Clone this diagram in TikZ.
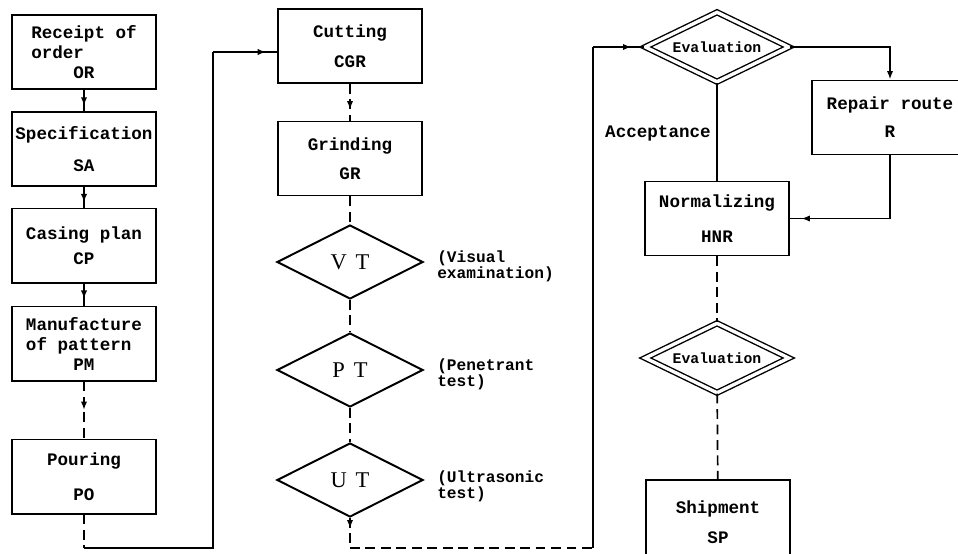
\documentclass[tikz,border=0pt]{standalone}
\usepackage{fontspec}
\setmainfont{Liberation Mono}
\newfontfamily\diafont{Liberation Serif}
\usetikzlibrary{arrows.meta,shapes.geometric,decorations.markings}

\tikzset{
	box/.style={draw, line width=1.4pt, minimum width=3.6cm, minimum height=1.85cm, inner sep=1pt, align=center, font=\fontsize{12.5}{14}\selectfont\bfseries},
	check/.style={draw, diamond, line width=1.4pt, aspect=2, minimum width=3.65cm, minimum height=1.85cm, inner sep=0pt, font=\diafont\fontsize{16}{18}\selectfont},
	evaluation/.style={draw, diamond, line width=1pt, double, double distance=2.4pt, aspect=2, minimum width=3.6cm, minimum height=1.75cm, inner sep=0pt, font=\fontsize{10.5}{12}\selectfont\bfseries},
	note/.style={anchor=west, align=left, inner sep=0pt, font=\fontsize{11.5}{11.5}\selectfont\bfseries},
	flow/.style={line width=1.2pt},
	broken/.style={flow, dash pattern=on 7pt off 4pt},
	midarrow/.style={postaction={decorate}, decoration={markings, mark=at position #1 with {\arrow{Latex[length=6pt,width=4.5pt]}}}}
}

\begin{document}
\begin{tikzpicture}[x=0.025cm, y=-0.025cm]
	\useasboundingbox (0,0) rectangle (958,553);

	\node[box] (OR) at (84,52) {\begin{tabular}{@{}l@{}}Receipt of\\order\end{tabular}\\[1pt]OR};
	\node[box] (SA) at (84,149) {Specification\\[9pt]SA};
	\node[box] (CP) at (84,245.5) {Casing plan\\[4pt]CP};
	\node[box] (PM) at (84,343.5) {\begin{tabular}{@{}l@{}}Manufacture\\of pattern\end{tabular}\\[1pt]PM};
	\node[box] (PO) at (84,476.5) {Pouring\\[11pt]PO};

	\node[box] (CGR) at (350,46) {Cutting\\[7pt]CGR};
	\node[box] (GR) at (350,158.5) {Grinding\\[7pt]GR};
	\node[check] (VT) at (350,262) {V\hspace{0.4em}T};
	\node[check] (PT) at (350,370) {P\hspace{0.4em}T};
	\node[check] (UT) at (350,480) {U\hspace{0.4em}T};
	\node[note] (vtnote) at (437,266) {(Visual\\examination)};
	\node[note] (ptnote) at (437,374) {(Penetrant\\test)};
	\node[note] (utnote) at (437,486) {(Ultrasonic\\test)};

	\node[evaluation] (Ev1) at (717,47) {Evaluation};
	\node[box, minimum width=3.9cm] (R) at (890,117.5) {Repair route\\[6pt]R};
	\node[box] (HNR) at (717,218.5) {Normalizing\\[11pt]HNR};
	\node[evaluation] (Ev2) at (717,358) {Evaluation};
	\node[box, minimum height=2.1cm] (SP) at (718,522) {Shipment\\[7pt]SP};
	\node[note, anchor=east, font=\fontsize{12.5}{14}\selectfont\bfseries] (acc) at (711,133) {Acceptance};

	\draw[flow, midarrow=0.75] (OR) -- (SA);
	\draw[flow, midarrow=0.75] (SA) -- (CP);
	\draw[flow, midarrow=0.7] (CP) -- (PM);
	\draw[broken, midarrow=0.5] (PM) -- (PO);

	\coordinate (a1) at (84,548);
	\coordinate (a2) at (213,548);
	\coordinate (a3) at (213,52);
	\draw[broken] (PO) -- (a1);
	\draw[flow] (a1) -- (a2) -- (a3);
	\draw[flow, midarrow=0.83] (a3) -- (a3 -| CGR.west);

	\draw[broken, midarrow=0.7] (CGR) -- (GR);
	\draw[broken] (GR) -- (VT);
	\draw[broken] (VT) -- (PT);
	\draw[broken] (PT) -- (UT);

	\coordinate (b1) at (350,548);
	\coordinate (b2) at (593,548);
	\coordinate (b3) at (593,47);
	\draw[broken, midarrow=0.35] (UT) -- (b1);
	\draw[broken] (b1) -- (b2);
	\draw[flow] (b2) -- (b3);
	\draw[flow, midarrow=0.75] (b3) -- (Ev1);

	\draw[flow, -{Latex[length=6pt,width=4.5pt]}] (Ev1.east) -| (R.north);
	\draw[flow] (Ev1) -- (HNR);
	\draw[flow, midarrow=0.93] (R.south) |- (HNR.east);
	\draw[broken] (HNR) -- (Ev2);
	\draw[broken] (Ev2) -- (SP);
\end{tikzpicture}
\end{document}
